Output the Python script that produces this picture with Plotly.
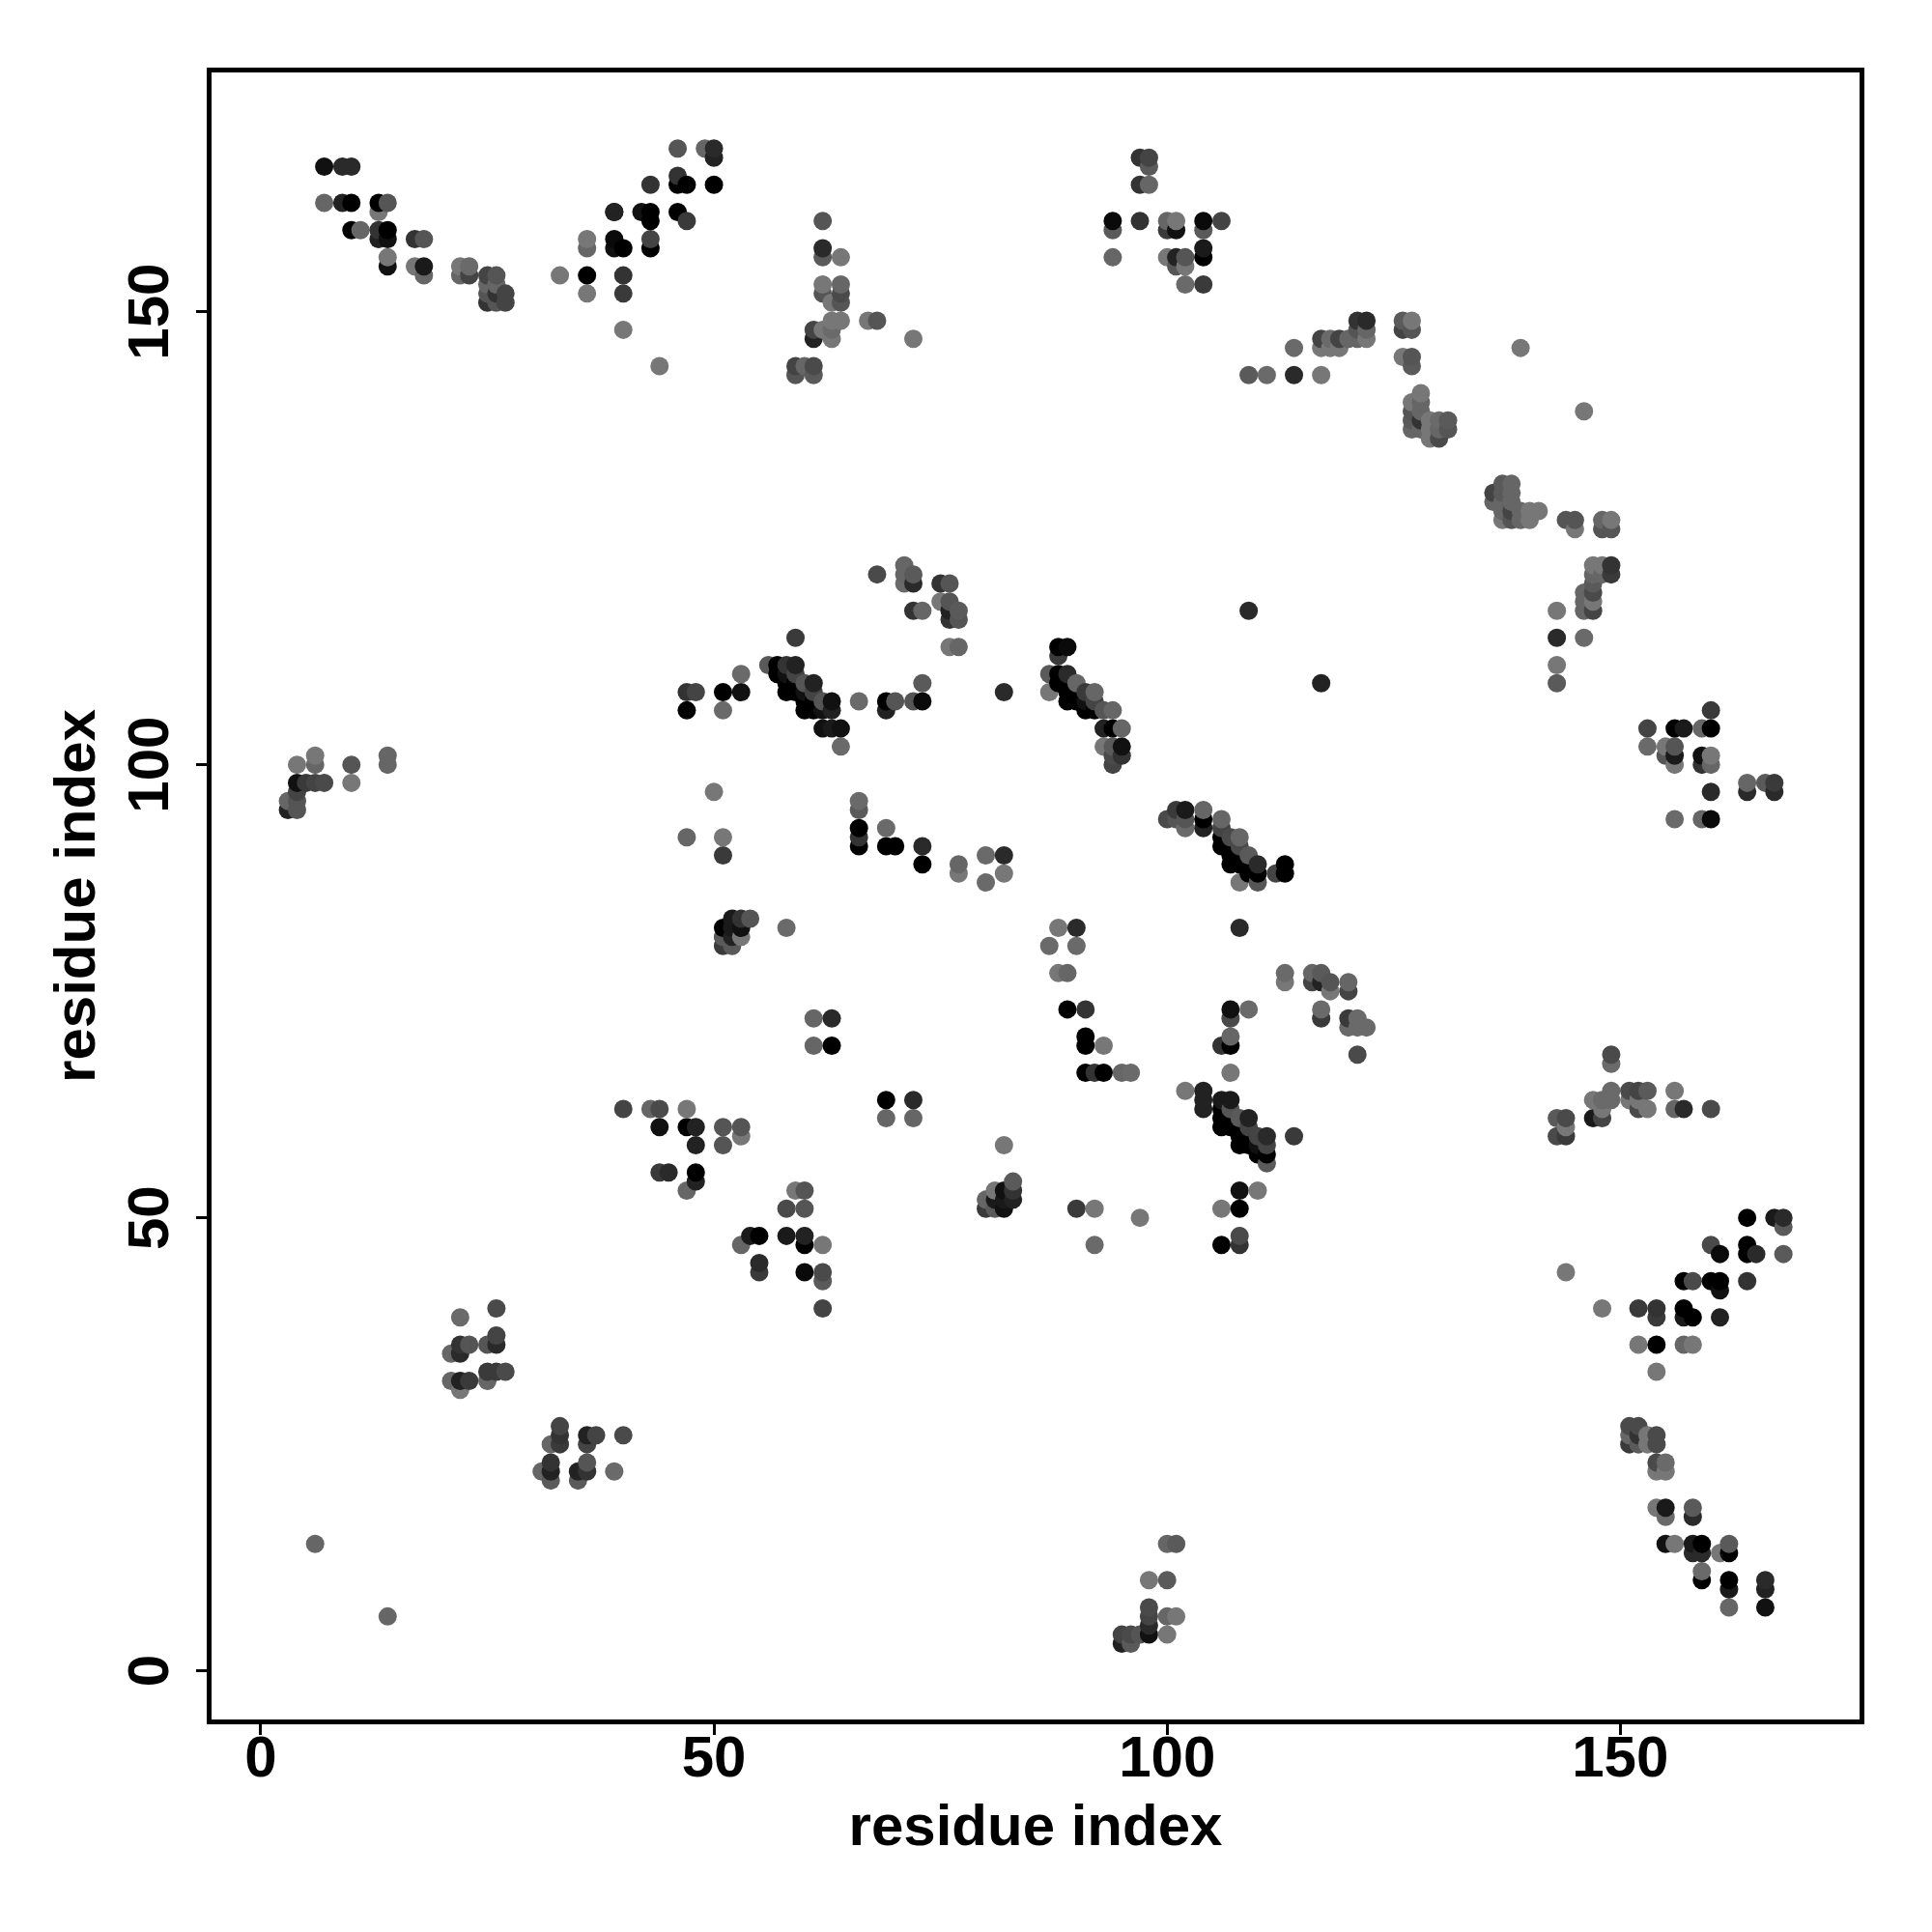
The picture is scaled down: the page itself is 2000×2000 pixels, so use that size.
import pandas as pd
import plotly.graph_objects as go

tick_vals = [0, 50, 100, 150]
axis_label = "residue index"

# one row per cluster of contacts; the three lists run in parallel
residue_x = [
 [7,9,10,7,9,10,13,14,13,10,11,13,14,13,14,14,14,17,18,17,18,18,22,23,22,23,25,26,25,26,25,26,27,25,26,27],
 [33,36,36,36,36,39,39,40,39,40,40,40,44,39,42,43,43,43,43,43,46,46,46,47,46,47,49,50,50,50],
 [62,62,62,64,62,64,62,64,63,64,63,64,62,63,61,61,63,67,68,72,59,60,61,59,61],
 [97,98,98,97,98,94,94,97,100,101,100,101,104,106,104,104,104,94,100,101,102,101,102,102,104,114,109,111,114],
 [121,122,121,122,117,118,119,120,121,122,117,118,119,117,126,127,126,127,126,127,127,139,146],
 [128,127,128,127,128,127,128,129,130,131,127,128,129,130,131,129,130],
 [137,138,136,137,138,136,137,138,137,138,139,140,141,137,138,139,140,144,145,145,148,149,148,149],
 [147,148,149,149,148,147,147,146,147,146,147,146,147,143,143,146,143,143,117],
 [47,48,47,51,53,53,51,59,56,57,58,59,57,58,59,58,59,60,61,58,59,60,61,60,61,62,63,60,61,62,63,62,63,64,64,66,69,70,69,72,73,73],
 [68,71,71,72,71,72,75,76,75,76,76,77,76,77,72,73,76,77,82],
 [87,88,89,88,89,88,87,88,90,89,90,91,92,89,90,91,92,91,92,93,94,93,94,95,93,94,95,94,95,94],
 [50,47,51,51,66,66,66,66,66,69,69,70,73,73,77,77,80,82,80,82],
 [100,101,102,101,102,102,104,104,104,106,106,107,108,106,106,107,108,107,108,109,107,108,109,110,109,110,108,110,112,113,113],
 [88,90,87,90,88,89,108,113,113,116,117,116,117,118,118,120,120],
 [107,109,107,117,117,120,121,120,121,122,121,106,107,107,107],
 [102,104,104,104,106,107,106,107,106,107,108,109,106,107,108,109,108,109,110,111,108,109,110,111,110,111,111,114],
 [108,110,106,108,108,106,108,97,144,109],
 [149,149,147,148,149,149,148,147,148,143,144,144,143,144,151,152,153,151,152,152,153,156,156,157,160],
 [164,167,168,168,160,161,164,164,165,168,157,158,160,161,161,164,148,152,154,154,157,157,158,161,152,154,157,158,154],
 [151,152,151,152,153,154,151,152,153,154,154,155,154,155,154,155,155,158,158],
 [155,156,158,159,158,159,161,162,162,159,159,162,162,162,166,166,166],
 [160,153,156,157,159,160,153,155,156,155,156,156,159,160,159,160,160,164,164,166,167,167,156,159,160],
 [4,6,6,10,10,14,14,4,5,6,7,4,3,4,3,4],
 [51,52,53,54,51,52,53,51,52,53,51,52,58,61,63,61,63,89,91,91,91,93,91,92,93,95,96,69,72,69,72],
 [40,43,44,47,44,47,48,51,53,53,48,51,44,45,48,48,47,59,60,58,60,54,55,58,60,53,60,62,55,55,60,62,62,62],
 [82,83,83,81,82,80,81,82,83,80,81,82,90,92,92],
 [26,22,26,25,26,22,23,21,22,21,22,23,25,26,27,25,22],
 [33,33,32,33,36,37,36,40,32,36,31,32,35,36,39,32,35],
 [6,14,100,101,98,100,98,98,98,98,100,101,100,95,96,97,95,96],
]
residue_y = [
 [166,166,166,162,162,162,162,162,161,159,159,159,159,158,158,156,155,158,158,155,155,154,155,155,154,154,154,154,153,153,152,152,152,151,151,151],
 [154,158,157,154,152,158,157,157,161,154,152,148,144,161,161,161,160,158,157,164,168,165,164,164,161,160,168,168,167,164],
 [160,157,156,156,153,153,152,152,151,151,149,149,148,148,148,147,147,149,149,147,144,144,144,143,143],
 [167,167,166,164,164,160,159,160,160,160,159,159,160,160,159,157,156,156,156,156,156,155,155,153,153,146,143,143,143],
 [149,149,148,148,147,147,147,147,147,147,146,146,146,143,149,149,148,148,145,145,144,146,139],
 [141,140,140,139,139,138,138,138,138,138,137,137,137,137,137,136,136],
 [131,131,130,130,130,129,129,129,128,128,128,128,128,127,127,127,127,127,127,126,127,127,126,126],
 [122,122,122,121,121,121,120,119,119,118,118,117,117,117,114,114,111,109,109],
 [108,108,106,108,108,110,106,114,111,111,111,111,110,110,110,109,109,109,109,108,108,108,108,107,107,107,107,106,106,106,106,104,104,104,102,107,107,107,106,107,107,109],
 [121,122,121,121,120,120,120,120,118,118,117,117,116,116,117,117,113,113,108],
 [110,110,110,113,113,112,108,109,109,108,108,108,108,107,107,107,107,106,106,106,106,104,104,104,102,102,102,101,101,100],
 [97,92,92,90,96,95,93,92,91,93,91,91,91,89,89,88,90,90,87,88],
 [94,95,95,94,94,93,95,94,93,94,93,92,92,92,91,91,91,90,90,90,89,89,89,89,88,88,87,87,88,89,88],
 [82,82,80,80,77,77,82,77,76,77,77,76,76,76,75,76,75],
 [73,73,72,73,72,72,72,71,71,71,68,69,70,69,66],
 [64,64,63,62,63,63,62,62,61,61,61,61,60,60,60,60,59,59,59,59,58,58,58,58,57,57,56,59],
 [53,53,51,51,48,47,47,50,44,117],
 [68,67,63,63,64,63,62,61,61,61,61,60,59,59,64,64,64,63,63,62,62,64,62,62,62],
 [50,50,50,49,47,46,47,46,46,46,43,43,43,43,42,43,40,40,40,39,40,39,39,39,36,36,36,36,33],
 [27,27,26,26,26,26,25,25,25,25,23,23,22,22,18,18,17,18,17],
 [14,14,14,14,13,13,13,14,13,11,10,10,9,7,10,9,7],
 [106,104,104,104,104,104,102,102,102,101,101,100,101,101,100,100,97,98,97,98,98,97,94,94,94],
 [100,101,100,100,98,101,100,98,98,98,98,97,96,96,95,95],
 [82,83,83,83,81,82,82,81,81,81,80,80,82,72,72,69,69,73,73,70,69,69,66,66,66,66,66,63,63,61,61],
 [62,62,62,62,60,60,60,60,60,59,58,58,55,55,55,54,53,53,53,51,51,48,48,48,48,47,47,47,45,44,44,44,43,40],
 [58,54,53,53,53,52,52,52,52,51,51,51,51,51,47],
 [40,39,37,36,36,36,36,35,35,32,32,32,33,33,33,32,31],
 [27,26,25,25,26,26,25,26,23,23,22,22,22,22,22,21,21],
 [14,6,14,14,10,10,7,6,5,4,6,6,4,4,4,4,3,3],
]
gray_level = [
 [17,42,42,102,34,0,0,85,119,0,102,51,0,34,17,119,17,51,85,119,26,102,119,106,102,68,68,85,102,102,85,51,68,51,85,68],
 [119,119,102,0,119,10,17,0,34,51,58,119,119,34,17,0,0,68,0,51,85,51,0,0,0,58,102,42,34,0],
 [85,42,90,119,119,102,85,74,119,85,119,119,119,106,68,34,119,119,85,119,68,102,74,85,90],
 [51,68,90,51,102,10,90,51,102,119,58,17,10,68,90,26,0,102,119,34,85,85,119,106,58,106,90,106,42],
 [51,42,85,102,68,106,68,102,102,119,119,119,119,119,90,119,68,85,119,85,90,119,119],
 [119,119,102,85,102,90,51,119,106,90,102,102,119,102,85,119,74],
 [90,102,68,90,102,102,102,102,102,68,102,119,119,119,85,102,119,85,85,119,102,119,85,85],
 [119,119,51,58,102,102,90,102,74,102,119,102,68,119,42,106,119,90,34],
 [51,68,0,0,17,106,106,58,90,0,51,34,0,17,68,0,0,85,34,0,0,17,68,0,0,85,17,0,0,17,34,17,26,17,106,106,0,85,34,85,10,90],
 [74,102,102,90,106,42,51,85,119,85,34,90,51,85,51,102,119,102,42],
 [90,0,42,0,10,58,119,0,102,0,0,58,102,0,0,17,68,0,0,85,102,34,0,102,119,90,17,74,51,68],
 [119,102,119,58,106,90,0,51,0,106,0,0,42,0,102,119,106,42,106,119],
 [74,58,26,85,85,106,102,0,34,102,68,74,102,0,0,0,74,0,0,90,0,0,0,42,0,0,119,85,68,0,0],
 [119,42,106,106,119,102,42,106,119,102,90,68,34,85,119,102,68],
 [17,106,74,106,58,58,106,106,106,106,74,51,102,0,119],
 [119,34,34,34,26,26,0,85,0,0,90,34,0,0,0,68,0,0,68,42,0,0,17,68,0,0,90,58],
 [17,119,119,0,74,0,51,119,119,42],
 [74,106,119,106,106,106,119,26,68,90,74,119,74,58,74,68,90,119,119,74,119,119,102,42,74],
 [0,26,42,90,74,10,0,0,42,90,0,74,0,0,17,51,119,58,51,58,0,26,0,34,119,0,102,119,119],
 [74,74,102,51,119,74,58,90,119,74,74,106,119,119,119,26,106,90,42],
 [17,119,26,0,42,42,119,90,0,106,0,0,26,102,42,34,17],
 [58,68,0,26,102,0,106,119,85,85,26,119,17,119,51,102,42,102,42,90,58,42,106,102,10],
 [119,119,102,85,119,102,102,17,58,68,74,68,102,85,34,85],
 [0,26,51,85,90,26,17,90,34,119,58,90,106,102,42,102,0,0,51,0,0,119,0,51,0,102,106,0,42,102,102],
 [68,102,74,119,17,0,34,85,85,119,34,85,58,42,0,34,102,119,85,74,85,26,0,26,34,102,0,119,42,58,10,74,90,68],
 [119,90,51,119,17,102,26,26,34,58,90,17,58,119,106],
 [74,106,68,85,42,51,85,102,42,102,34,58,58,58,74,102,119],
 [68,51,102,58,34,68,68,74,51,85,102,34,34,51,106,90,90],
 [102,102,102,90,119,90,74,68,42,17,102,119,119,68,74,85,34,90],
]

bad = [(i, len(a), len(b), len(c)) for i, (a, b, c) in enumerate(zip(residue_x, residue_y, gray_level))
       if not (len(a) == len(b) == len(c))]
if bad:
    raise ValueError(str(bad))

points = pd.DataFrame({
    "x": [v for row in residue_x for v in row],
    "y": [v for row in residue_y for v in row],
    "g": [v for row in gray_level for v in row],
}).sort_values(["x", "y"], kind="stable")

fig = go.Figure(go.Scatter(
    x=points["x"], y=points["y"], mode="markers",
    marker=dict(size=19, color=[f"rgb({g},{g},{g})" for g in points["g"]], line=dict(width=0)),
    showlegend=False, hoverinfo="x+y",
))

font = dict(family="Liberation Sans", size=60, color="black", weight=700)
axis = dict(
    tickmode="array", tickvals=tick_vals, ticktext=[str(v) for v in tick_vals],
    ticks="outside", ticklen=11, tickwidth=3, tickcolor="black", tickfont=font,
    showgrid=False, zeroline=False, showline=True, linecolor="black", linewidth=5, mirror=True,
)
fig.update_layout(
    width=2000, height=2000, paper_bgcolor="white", plot_bgcolor="white",
    margin=dict(l=219, r=75, t=75, b=220, autoexpand=False),
    xaxis=dict(axis, range=[-5.43, 176.4], ticklabelstandoff=-29,
               title=dict(text=axis_label, font=font, standoff=18), automargin=False),
    yaxis=dict(axis, range=[-5.37, 176.4], tickangle=-90, ticklabelstandoff=5, ticklabelshift=9,
               title=dict(text=axis_label, font=font, standoff=4), automargin=False),
)
fig.write_html("out.html", config={"displayModeBar": False},
               post_script="document.body.style.margin='0';document.body.style.overflow='hidden';")
